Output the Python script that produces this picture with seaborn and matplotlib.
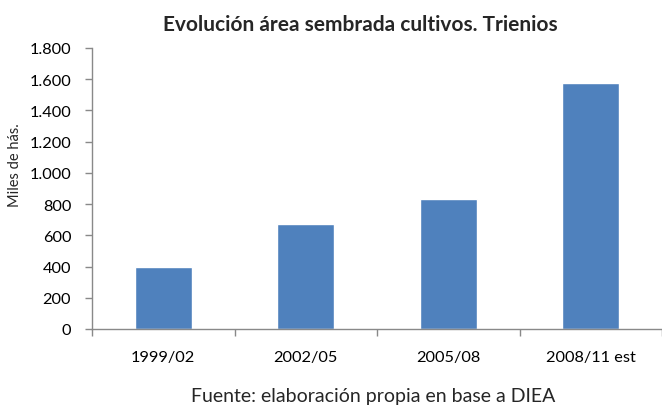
import matplotlib
matplotlib.use("Agg")
import matplotlib.pyplot as plt
import matplotlib.ticker as mticker
import seaborn as sns
import pandas as pd

# --- datos ---
trienios = ["1999/02", "2002/05", "2005/08", "2008/11 est"]
area_miles_ha = [400, 670, 830, 1575]

titulo = "Evolución área sembrada cultivos. Trienios"
etiqueta_y = "Miles de hás."
fuente = "Fuente: elaboración propia en base a DIEA"

sns.set_theme(style="white")
plt.rcParams["font.family"] = ["Lato", "DejaVu Sans"]

AZUL = "#4F81BD"
GRIS = "#898989"

df = pd.DataFrame({"trienio": trienios, "area": area_miles_ha})

fig = plt.figure(figsize=(6.62, 4.06), dpi=100)
ax = fig.add_axes([92 / 662, 76 / 406, 570 / 662, 281 / 406])

sns.barplot(data=df, x="trienio", y="area", color=AZUL, width=0.4,
            saturation=1, ax=ax)

ax.set_xlim(-0.5, 3.5)
ax.set_ylim(0, 1800)
ax.set_yticks(range(0, 1801, 200))
ax.yaxis.set_major_formatter(
    mticker.FuncFormatter(lambda v, p: f"{int(v):,}".replace(",", ".")))

# ejes estilo excel
for lado in ["top", "right"]:
    ax.spines[lado].set_visible(False)
for lado in ["left", "bottom"]:
    ax.spines[lado].set_color(GRIS)
    ax.spines[lado].set_linewidth(1.0)

ax.set_xticks([-0.5, 0.5, 1.5, 2.5, 3.5], minor=True)
ax.tick_params(axis="x", which="major", length=0, pad=15, labelsize=11.8,
               labelcolor="black")
ax.tick_params(axis="x", which="minor", length=5, width=1, color=GRIS,
               direction="out", bottom=True)
ax.tick_params(axis="y", length=5, width=1, color=GRIS, direction="out",
               left=True, pad=10, labelsize=11.8, labelcolor="black")

ax.set_xlabel("")
ax.set_ylabel("")

fig.text(360 / 662, 1 - 25 / 406, titulo, ha="center", va="center",
         fontsize=15, fontweight="bold")
fig.text(15 / 662, 1 - 165 / 406, etiqueta_y, ha="center", va="center",
         rotation=90, fontsize=10.5)
fig.text(373 / 662, 1 - 397 / 406, fuente, ha="center", va="center",
         fontsize=14)

fig.savefig("out.png", dpi=100)
